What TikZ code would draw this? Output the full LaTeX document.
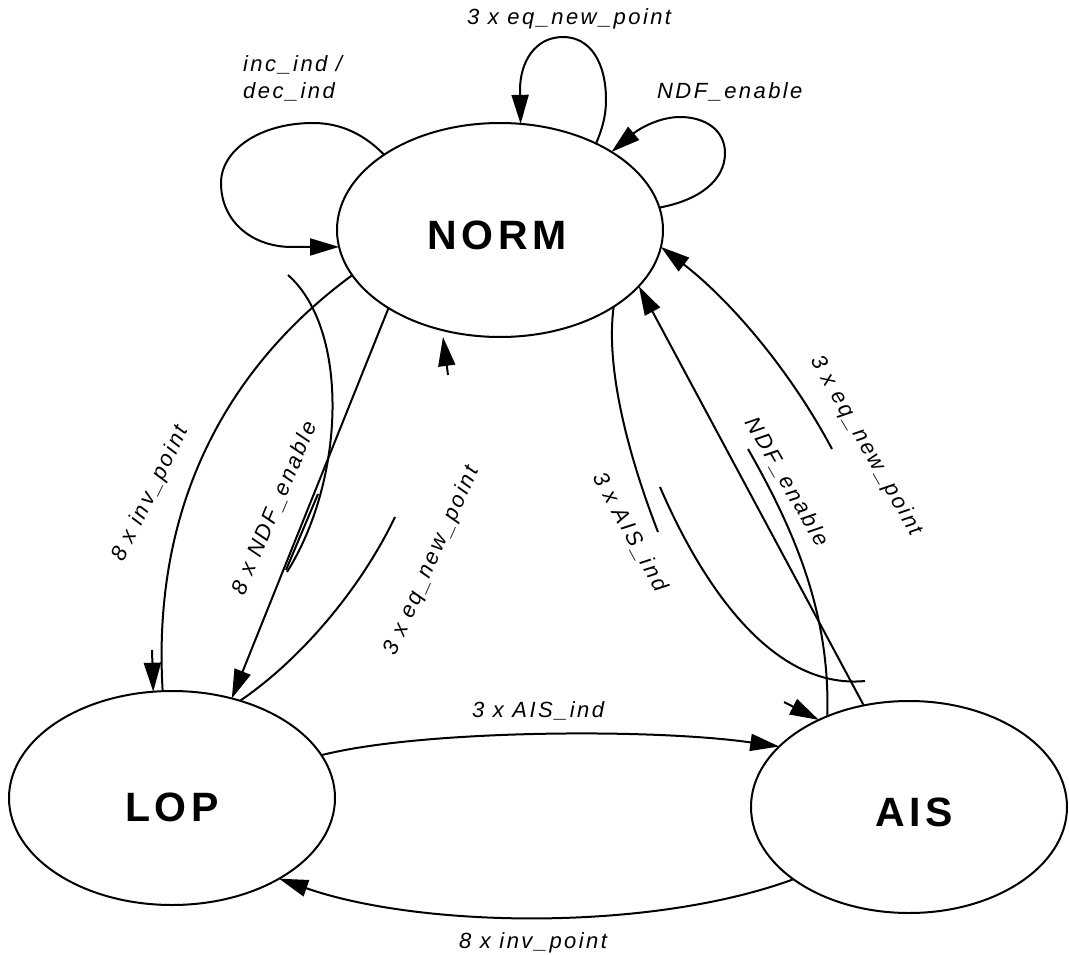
\documentclass[tikz,border=0pt]{standalone}
\usepackage{fontspec}
\setmainfont{Liberation Sans}
\newfontfamily\lblfont[LetterSpace=11]{Liberation Sans}
\newfontfamily\snfont[LetterSpace=11]{Liberation Sans}
\usetikzlibrary{arrows.meta,shapes.geometric}
\tikzset{
  conn/.style={line width=2pt, -{Triangle[length=29pt,width=17pt]}},
  edgeline/.style={line width=2pt},
  state/.style={draw, ellipse, line width=2pt, minimum width=326pt, minimum height=214pt, inner sep=0pt, outer sep=0pt},
  lbl/.style={font=\lblfont\itshape\fontsize{22}{26}\selectfont, inner sep=0pt},
  sname/.style={font=\snfont\bfseries\fontsize{41}{48}\selectfont, inner sep=0pt},
}
\begin{document}
\begin{tikzpicture}[x=1pt,y=-1pt]
\useasboundingbox (0,0) rectangle (1069,955);
% states
\node[state] (norm) at (500,230) {};
\node[state] (lop) at (172,798) {};
\node[state, minimum width=316pt, minimum height=212pt] (ais) at (909,807) {};
\node[sname] (normt) at (497,235) {NORM};
\node[sname] (lopt) at (172,807) {LOP};
\node[sname] (aist) at (914,812) {AIS};
% free ends
\coordinate (a1) at (152,650);
\coordinate (w1) at (288,275);
\coordinate (w2) at (287,572);
\coordinate (w3) at (318,494);
\coordinate (w4) at (286,570);
\coordinate (m1) at (395,517);
\coordinate (m2) at (448,375);
\coordinate (m3) at (443,337);
\coordinate (r1) at (658,532);
\coordinate (r2) at (660,487);
\coordinate (r3) at (865,681);
\coordinate (r4) at (784,702);
\coordinate (n1) at (748,449);
\coordinate (e1) at (832,449);
% self loops
\draw[conn] (norm.147) .. controls (360,130) and (335,123) .. (313,123)
  .. controls (260,123) and (221,150) .. (221,183)
  .. controls (221,220) and (250,246) .. (290,247) -- (norm.186);
\draw[conn] (norm.42) .. controls (604,125) and (606,112) .. (606,100)
  .. controls (606,62) and (590,37) .. (563,37)
  .. controls (535,37) and (520,62) .. (520,90) -- (norm.79);
\draw[conn] (norm.8.5) .. controls (700,200) and (725,180) .. (725,153)
  .. controls (725,130) and (705,117) .. (680,117)
  .. controls (660,117) and (640,128) .. (norm.35);
% NORM -> LOP
\draw[edgeline] (norm.197) .. controls (250,350) and (150,480) .. (lop.95);
\draw[conn] (a1) -- (lop.100);
\draw[conn] (norm.215) -- (lop.59);
\draw[edgeline] (w1) .. controls (350,330) and (345,480) .. (w2);
\draw[edgeline] (w3) -- (w4);
% LOP -> NORM
\draw[edgeline] (lop.55) .. controls (300,660) and (360,590) .. (m1);
\draw[conn] (m2) -- (m3);
% NORM -> AIS
\draw[edgeline] (norm.326) .. controls (605,370) and (630,460) .. (r1);
\draw[edgeline] (r2) .. controls (700,580) and (770,690) .. (r3);
\draw[conn] (r4) -- (ais.136);
% AIS -> NORM
\draw[conn] (ais.114) -- (norm.338);
\draw[edgeline] (n1) .. controls (800,540) and (830,620) .. (ais.132);
\draw[conn] (e1) .. controls (790,370) and (730,300) .. (norm.354);
% LOP <-> AIS
\draw[conn] (lop.16) .. controls (420,730) and (650,728) .. (ais.155);
\draw[conn] (ais.212) .. controls (650,932) and (420,928) .. (lop.323);
% labels
\node[lbl, anchor=base west] (t1) at (467,25) {3 x eq\_new\_point};
\node[lbl, anchor=base west] (t2) at (243,72) {inc\_ind /};
\node[lbl, anchor=base west] (t3) at (243,99) {dec\_ind};
\node[lbl, anchor=base west] (t4) at (657,99) {NDF\_enable};
\node[lbl, rotate=64] (t5) at (151,494) {8 x inv\_point};
\node[lbl, rotate=67] (t6) at (275,508) {8 x NDF\_enable};
\node[lbl, rotate=66] (t7) at (432,561) {3 x eq\_new\_point};
\node[lbl, rotate=-61] (t8) at (630,532) {3 x AIS\_ind};
\node[lbl, rotate=-60] (t9) at (787,482) {NDF\_enable};
\node[lbl, rotate=-60] (t10) at (866,446) {3 x eq\_new\_point};
\node[lbl, anchor=base west] (t11) at (472,717) {3 x AIS\_ind};
\node[lbl, anchor=base west] (t12) at (459,948) {8 x inv\_point};
\end{tikzpicture}
\end{document}
